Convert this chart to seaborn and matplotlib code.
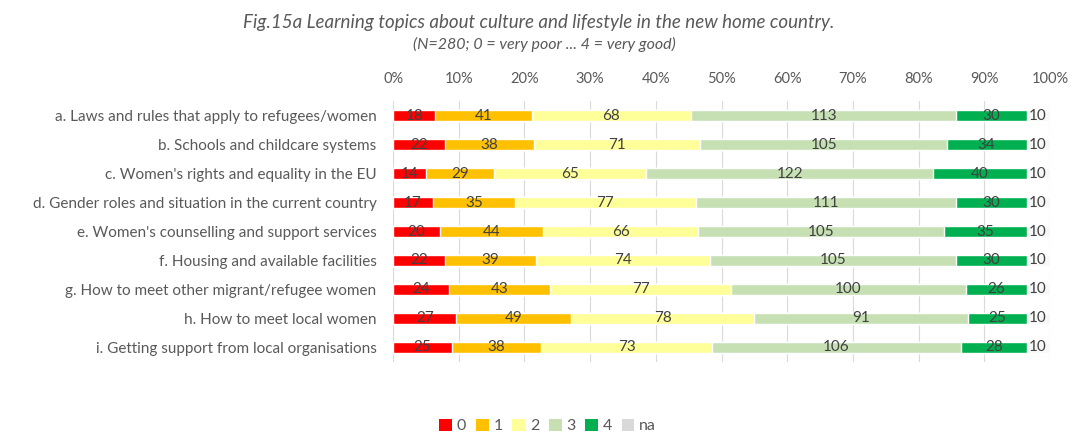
import numpy as np
import pandas as pd
import matplotlib
matplotlib.use("Agg")
import matplotlib.pyplot as plt
from matplotlib.patches import Patch
import seaborn as sns

topics = [
    "a. Laws and rules that apply to refugees/women",
    "b. Schools and childcare systems",
    "c. Women's rights and equality in the EU",
    "d. Gender roles and situation in the current country",
    "e. Women's counselling and support services",
    "f. Housing and available facilities",
    "g. How to meet other migrant/refugee women",
    "h. How to meet local women",
    "i. Getting support from local organisations",
]
levels = ["0", "1", "2", "3", "4", "na"]
score_0 = [18, 22, 14, 17, 20, 22, 24, 27, 25]
score_1 = [41, 38, 29, 35, 44, 39, 43, 49, 38]
score_2 = [68, 71, 65, 77, 66, 74, 77, 78, 73]
score_3 = [113, 105, 122, 111, 105, 105, 100, 91, 106]
score_4 = [30, 34, 40, 30, 35, 30, 26, 25, 28]
score_na = [10, 10, 10, 10, 10, 10, 10, 10, 10]
x_ticks = [0, 10, 20, 30, 40, 50, 60, 70, 80, 90, 100]

colors = ["#FF0000", "#FFC000", "#FFFF99", "#C6E0B4", "#00B050", "#D9D9D9"]
bar_colors = ["#FF0000", "#FFC000", "#FFFF99", "#C6E0B4", "#00B050", "#F7F7F7"]
text_color = "#595959"

counts = np.array([score_0, score_1, score_2, score_3, score_4, score_na], dtype=float)
totals = counts.sum(axis=0)
pct = counts / totals * 100
cum = np.cumsum(pct, axis=0)

sns.set_theme(style="white")
plt.rcParams["font.family"] = ["Lato", "DejaVu Sans"]

fig = plt.figure(figsize=(10.74, 4.36), dpi=100)
ax = fig.add_axes([0.366, 0.170, 0.6117, 0.598])

# Stacked bars: draw cumulative totals from the outermost segment inward
for k in range(len(levels) - 1, -1, -1):
    df = pd.DataFrame({"topic": topics, "cum": cum[k]})
    sns.barplot(data=df, x="cum", y="topic", order=topics, color=bar_colors[k],
                width=0.4, saturation=1, orient="h", ax=ax, zorder=2)

# Segment labels with the raw counts
for k in range(len(levels)):
    for i in range(len(topics)):
        start = cum[k][i] - pct[k][i]
        if levels[k] == "na":
            ax.text(start + 0.4, i, f"{int(counts[k][i])}", ha="left", va="center",
                    fontsize=11, color="#404040", zorder=3)
        else:
            ax.text(start + pct[k][i] / 2, i, f"{int(counts[k][i])}", ha="center",
                    va="center", fontsize=11, color="#404040", zorder=3)

ax.set_xlim(0, 100)
ax.set_ylim(len(topics) - 0.5, -0.5)
ax.set_xticks(x_ticks)
ax.set_xticklabels([f"{t}%" for t in x_ticks])
ax.xaxis.tick_top()
ax.tick_params(axis="x", length=0, pad=11, labelsize=10.5, labelcolor=text_color)
ax.tick_params(axis="y", length=0, pad=12, labelsize=11, labelcolor=text_color)
ax.set_xlabel("")
ax.set_ylabel("")
ax.grid(axis="x", color="#D9D9D9", linewidth=0.8, zorder=0)
ax.set_axisbelow(True)
for s in ax.spines.values():
    s.set_visible(False)

fig.text(0.502, 0.948, "Fig.15a Learning topics about culture and lifestyle in the new home country.",
         ha="center", va="center", fontsize=13.5, style="italic", color=text_color)
fig.text(0.507, 0.897, "(N=280; 0 = very poor ... 4 = very good)",
         ha="center", va="center", fontsize=11.5, style="italic", color=text_color)

handles = [Patch(facecolor=c, edgecolor="none") for c in colors]
fig.legend(handles, levels, loc="center", bbox_to_anchor=(0.51, 0.023), ncol=6,
           frameon=False, handlelength=0.8, handleheight=0.8, handletextpad=0.3,
           columnspacing=0.6, fontsize=11.5, labelcolor=text_color)

fig.savefig("out.png", dpi=100)
